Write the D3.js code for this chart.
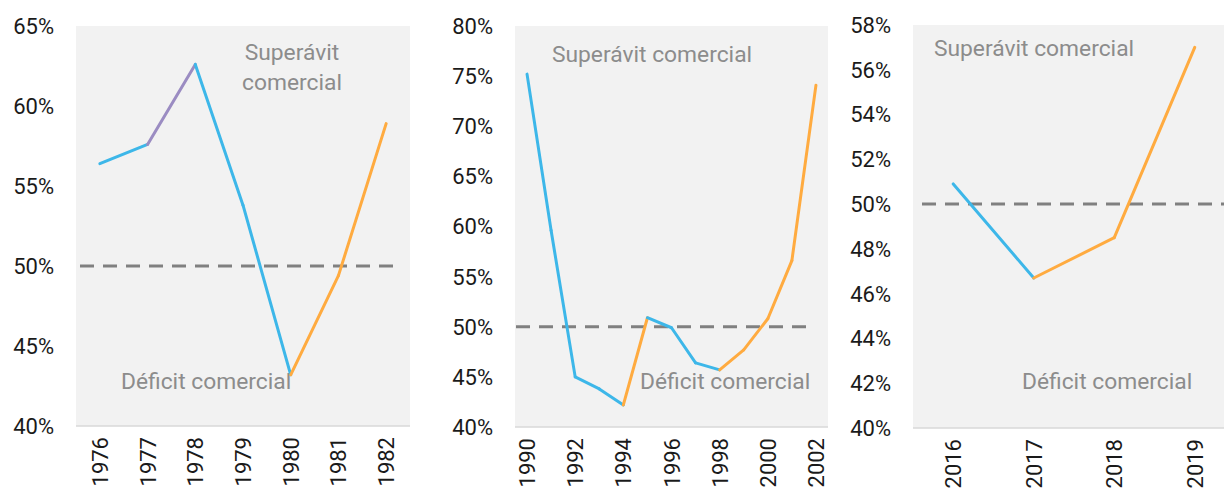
<!DOCTYPE html>
<html>
<head>
<meta charset="utf-8">
<script src="https://cdn.jsdelivr.net/npm/d3@7"></script>
<style>
  body { margin: 0; background: #fff; }
  svg { font-family: Roboto, "Noto Sans", sans-serif; display: block; }
</style>
</head>
<body>
<div id="chart"></div>
<script>
// Data (share, %)
const years1 = [1976, 1977, 1978, 1979, 1980, 1981, 1982];
const share1 = [56.4, 57.6, 62.6, 53.8, 43.2, 49.4, 58.9];
const segColors1 = ["blue", "purple", "blue", "blue", "orange", "orange"];

const years2 = [1990, 1991, 1992, 1993, 1994, 1995, 1996, 1997, 1998, 1999, 2000, 2001, 2002];
const share2 = [75.2, 59.6, 45.0, 43.8, 42.2, 50.9, 49.9, 46.4, 45.7, 47.7, 50.8, 56.6, 74.1];
const segColors2 = ["blue", "blue", "blue", "blue", "orange", "blue", "blue", "blue", "orange", "orange", "orange", "orange"];

const years3 = [2016, 2017, 2018, 2019];
const share3 = [50.9, 46.7, 48.5, 57.0];
const segColors3 = ["blue", "orange", "orange"];

const threshold = 50;
const surplusLabel = "Superávit comercial";
const deficitLabel = "Déficit comercial";

const palette = { blue: "#3db7e9", orange: "#ffab40", purple: "#9b8cc2" };

const width = 1224, height = 491;

const svg = d3.select("#chart")
    .append("svg")
    .attr("width", width)
    .attr("height", height);

const panels = [
    { years: years1, share: share1, seg: segColors1, left: 76, right: 410, top: 26, bottom: 426,
      domain: [40, 65], step: 5, every: 1, dash: [80, 400],
      surplus: { x: 292, lines: ["Superávit", "comercial"], y: 60 }, deficit: { x: 121, y: 389 } },
    { years: years2, share: share2, seg: segColors2, left: 515, right: 828, top: 26, bottom: 427,
      domain: [40, 80], step: 5, every: 2, dash: [516, 815],
      surplus: { x: 652, lines: [surplusLabel], y: 62 }, deficit: { x: 640, y: 389 } },
    { years: years3, share: share3, seg: segColors3, left: 913, right: 1235, top: 25, bottom: 428,
      domain: [40, 58], step: 2, every: 1, dash: [922, 1224],
      surplus: { x: 1034, lines: [surplusLabel], y: 56 }, deficit: { x: 1022, y: 389 } }
];

panels.forEach(function (p) {
    const g = svg.append("g");

    let x = d3.scalePoint()
        .domain(p.years)
        .range([p.left, p.right])
        .padding(0.5);

    let y = d3.scaleLinear()
        .domain(p.domain)
        .range([p.bottom, p.top]);

    // plot background
    g.append("rect")
        .attr("x", p.left)
        .attr("y", p.top)
        .attr("width", Math.min(p.right, width) - p.left)
        .attr("height", p.bottom - p.top)
        .attr("fill", "#f2f2f2");

    g.append("line")
        .attr("x1", p.left).attr("x2", Math.min(p.right, width))
        .attr("y1", p.bottom).attr("y2", p.bottom)
        .attr("stroke", "#d9d9d9")
        .attr("stroke-width", 1.5);

    // y axis labels
    const ticks = d3.range(p.domain[0], p.domain[1] + 0.001, p.step);
    g.selectAll(".ylab")
        .data(ticks)
        .enter()
        .append("text")
        .attr("class", "ylab")
        .attr("x", p.left - 22)
        .attr("y", d => y(d))
        .attr("dy", "0.36em")
        .attr("text-anchor", "end")
        .attr("font-size", 22)
        .attr("fill", "#1a1a1a")
        .text(d => d + "%");

    // x axis labels
    g.selectAll(".xlab")
        .data(p.years.filter((d, i) => i % p.every === 0))
        .enter()
        .append("text")
        .attr("class", "xlab")
        .attr("transform", d => "translate(" + (x(d) + 8) + "," + (p.bottom + 11) + ") rotate(-90)")
        .attr("text-anchor", "end")
        .attr("font-size", 22)
        .attr("fill", "#1a1a1a")
        .text(d => d);

    // 50% dashed line
    g.append("line")
        .attr("x1", p.dash[0]).attr("x2", p.dash[1])
        .attr("y1", y(threshold)).attr("y2", y(threshold))
        .attr("stroke", "#808080")
        .attr("stroke-width", 3)
        .attr("stroke-dasharray", "14,9");

    // annotations
    p.surplus.lines.forEach(function (t, i) {
        g.append("text")
            .attr("x", p.surplus.x)
            .attr("y", p.surplus.y + i * 30)
            .attr("text-anchor", "middle")
            .attr("font-size", 22.8)
            .attr("fill", "#8c8c8c")
            .text(t);
    });
    g.append("text")
        .attr("x", p.deficit.x)
        .attr("y", p.deficit.y)
        .attr("font-size", 22.8)
        .attr("fill", "#8c8c8c")
        .text(deficitLabel);

    // coloured segments
    const segs = p.seg.map((c, i) => ({
        color: c,
        pts: [[p.years[i], p.share[i]], [p.years[i + 1], p.share[i + 1]]]
    }));
    const line = d3.line()
        .x(d => x(d[0]))
        .y(d => y(d[1]));

    g.selectAll(".seg")
        .data(segs)
        .enter()
        .append("path")
        .attr("class", "seg")
        .attr("d", d => line(d.pts))
        .attr("fill", "none")
        .attr("stroke", d => palette[d.color])
        .attr("stroke-width", 3)
        .attr("stroke-linecap", "round");
});
</script>
</body>
</html>
